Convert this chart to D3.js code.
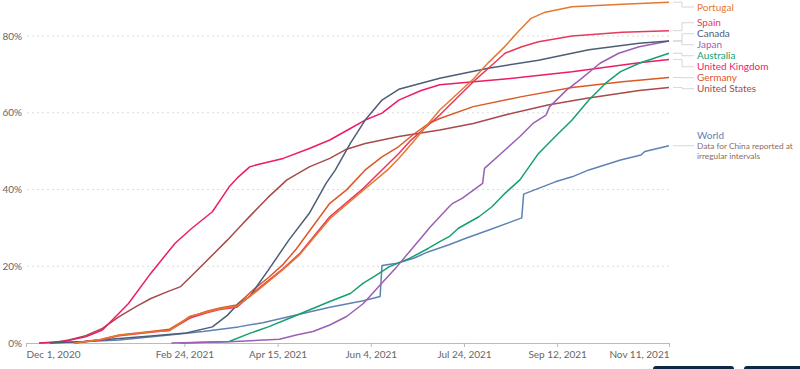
<!DOCTYPE html>
<html>
<head>
<meta charset="utf-8">
<script src="https://cdn.jsdelivr.net/npm/d3@7"></script>
<style>
body { margin: 0; background: #fff; font-family: Lato, "Open Sans", sans-serif; }
svg { display: block; }
</style>
</head>
<body>
<svg id="chart" width="800" height="369"></svg>
<script>
// share of people with at least one dose
const portugal = [["2020-12-27",0],["2021-01-10",0.9],["2021-01-20",2.0],["2021-02-06",2.9],["2021-02-16",3.2],["2021-02-27",7.0],["2021-03-08",8.1],["2021-03-15",8.9],["2021-03-24",9.6],["2021-04-03",13.2],["2021-04-18",19.2],["2021-04-27",23.1],["2021-05-13",32.4],["2021-05-31",39.8],["2021-06-13",45.1],["2021-06-19",48.1],["2021-06-26",52],["2021-07-11",60.7],["2021-07-29",68.8],["2021-08-06",73],["2021-08-15",77.3],["2021-08-22",81.1],["2021-08-29",84.6],["2021-09-05",86.1],["2021-09-20",87.6],["2021-10-17",88.3],["2021-11-11",88.8]];
const spain = [["2020-12-27",0],["2021-01-10",0.8],["2021-01-20",1.9],["2021-02-06",2.8],["2021-02-16",3.3],["2021-02-27",6.5],["2021-03-08",7.9],["2021-03-15",8.7],["2021-03-24",9.3],["2021-04-03",13.5],["2021-04-18",19.4],["2021-04-27",23.4],["2021-05-13",32.9],["2021-05-31",40.3],["2021-06-10",45.1],["2021-06-19",49.4],["2021-06-25",52.6],["2021-07-11",59.4],["2021-07-29",68.1],["2021-08-07",72],["2021-08-15",75.5],["2021-08-24",77.2],["2021-09-02",78.5],["2021-09-20",80],["2021-10-17",81],["2021-11-11",81.4]];
const canada = [["2020-12-14",0],["2021-01-01",0.4],["2021-01-15",1.0],["2021-02-06",1.8],["2021-02-25",2.6],["2021-03-11",4.2],["2021-03-19",7.2],["2021-03-25",10.3],["2021-03-31",12.1],["2021-04-10",19],["2021-04-21",26.8],["2021-05-02",33.8],["2021-05-11",41.6],["2021-05-16",45.1],["2021-05-24",52],["2021-06-01",58.1],["2021-06-10",63.3],["2021-06-19",66.1],["2021-07-11",69],["2021-08-06",71.6],["2021-09-02",73.7],["2021-09-29",76.4],["2021-10-26",78.1],["2021-11-11",78.7]];
const japan = [["2021-02-17",0],["2021-03-20",0.3],["2021-04-16",1.0],["2021-04-25",2.1],["2021-05-04",3.0],["2021-05-13",4.7],["2021-05-22",6.9],["2021-05-31",10.3],["2021-06-09",15.1],["2021-06-18",19.9],["2021-06-27",25.1],["2021-07-06",30.3],["2021-07-16",35.5],["2021-07-18",36.4],["2021-07-23",37.7],["2021-08-03",41.6],["2021-08-04",45.5],["2021-08-12",49],["2021-08-23",53.8],["2021-08-30",57.2],["2021-09-06",59.4],["2021-09-08",61.6],["2021-09-17",65.9],["2021-09-24",68.5],["2021-10-05",72.9],["2021-10-15",75.5],["2021-10-26",77.2],["2021-11-11",78.7]];
const australia = [["2021-02-22",0],["2021-03-20",0.4],["2021-03-31",2.5],["2021-04-10",4.2],["2021-04-21",6.4],["2021-05-02",8.6],["2021-05-13",10.8],["2021-05-24",12.9],["2021-05-31",15.6],["2021-06-07",17.7],["2021-06-14",19.9],["2021-06-25",22.1],["2021-07-05",24.7],["2021-07-11",26.4],["2021-07-16",27.7],["2021-07-21",29.9],["2021-08-01",32.9],["2021-08-08",35.5],["2021-08-15",39],["2021-08-23",42.5],["2021-09-02",49.4],["2021-09-11",53.8],["2021-09-20",58.1],["2021-09-29",63.3],["2021-10-08",67.7],["2021-10-16",70.7],["2021-10-26",72.9],["2021-11-11",75.5]];
const unitedKingdom = [["2020-12-08",0],["2020-12-21",0.4],["2021-01-02",1.6],["2021-01-11",3.4],["2021-01-25",10.3],["2021-02-06",18.2],["2021-02-19",26],["2021-02-28",29.9],["2021-03-11",34.2],["2021-03-20",40.7],["2021-03-25",43.3],["2021-03-31",45.9],["2021-04-05",46.6],["2021-04-18",48.1],["2021-05-02",50.7],["2021-05-13",52.9],["2021-05-24",55.9],["2021-06-01",58.1],["2021-06-10",59.9],["2021-06-19",63.3],["2021-07-01",65.8],["2021-07-11",67.3],["2021-08-15",68.8],["2021-09-20",70.7],["2021-10-26",73],["2021-11-11",73.9]];
const germany = [["2020-12-27",0],["2021-01-10",0.9],["2021-01-20",2.1],["2021-02-06",3.0],["2021-02-16",3.6],["2021-02-27",6.8],["2021-03-08",8.3],["2021-03-15",9.1],["2021-03-24",9.9],["2021-04-03",14.3],["2021-04-10",17.0],["2021-04-18",20.5],["2021-04-25",24.5],["2021-05-13",36.4],["2021-05-22",39.9],["2021-06-01",45.1],["2021-06-10",48.5],["2021-06-19",51.2],["2021-06-27",54.4],["2021-07-05",57.2],["2021-07-11",58.5],["2021-07-29",61.6],["2021-08-24",64.2],["2021-09-20",66.6],["2021-10-17",68.1],["2021-11-11",69.2]];
const unitedStates = [["2020-12-14",0],["2020-12-24",0.8],["2021-01-02",1.9],["2021-01-11",3.8],["2021-01-20",6.9],["2021-01-29",9.5],["2021-02-06",11.6],["2021-02-15",13.4],["2021-02-22",14.7],["2021-03-03",19],["2021-03-12",23.4],["2021-03-19",26.8],["2021-03-25",29.9],["2021-03-31",33],["2021-04-10",38],["2021-04-20",42.5],["2021-05-02",45.9],["2021-05-13",48.1],["2021-05-22",50.5],["2021-06-01",52],["2021-06-19",53.8],["2021-07-11",55.5],["2021-07-29",57.2],["2021-08-15",59.4],["2021-09-07",62],["2021-09-28",63.8],["2021-10-26",65.8],["2021-11-11",66.6]];
const world = [["2020-12-08",0],["2020-12-31",0.3],["2021-01-20",0.8],["2021-02-16",2.1],["2021-03-06",3.0],["2021-03-25",4.2],["2021-04-07",5.3],["2021-04-25",7.3],["2021-05-13",9.3],["2021-05-31",11],["2021-06-09",12.1],["2021-06-10",20.2],["2021-06-18",20.8],["2021-06-27",22.1],["2021-07-05",23.8],["2021-07-16",25.6],["2021-07-25",27.3],["2021-08-06",29.4],["2021-08-24",32.6],["2021-08-25",38.8],["2021-09-02",40.3],["2021-09-11",42],["2021-09-20",43.3],["2021-09-29",45.1],["2021-10-16",47.7],["2021-10-27",49],["2021-10-29",49.9],["2021-11-11",51.4]];

const yTicks = [0, 20, 40, 60, 80];
const xTicks = ["2020-12-01", "2021-02-24", "2021-04-15", "2021-06-04", "2021-07-24", "2021-09-12", "2021-11-11"];
const worldNote = ["Data for China reported at", "irregular intervals"];
// order of labels from top to bottom when two end at the same value
const labelOrder = ["Portugal", "Spain", "Canada", "Japan", "Australia", "United Kingdom", "Germany", "United States"];

const series = [
  { name: "World", color: "#5f82b4", values: world },
  { name: "United States", color: "#a64a4a", values: unitedStates },
  { name: "Germany", color: "#dc5826", values: germany },
  { name: "United Kingdom", color: "#ec1c68", values: unitedKingdom },
  { name: "Australia", color: "#16a06e", values: australia },
  { name: "Japan", color: "#9b5fb4", values: japan },
  { name: "Canada", color: "#4d5d78", values: canada },
  { name: "Spain", color: "#e8385b", values: spain },
  { name: "Portugal", color: "#e5782f", values: portugal }
];

const parse = d3.timeParse("%Y-%m-%d");
const svg = d3.select("#chart");

const x = d3.scaleTime()
  .domain([parse(xTicks[0]), parse(xTicks[xTicks.length - 1])])
  .range([26, 669]);
const y = d3.scaleLinear().domain([0, 80]).range([343, 36]);

// dotted gridlines
svg.append("g")
  .selectAll("line")
  .data(yTicks.filter(d => d > 0))
  .join("line")
  .attr("x1", 27).attr("x2", 669)
  .attr("y1", d => y(d)).attr("y2", d => y(d))
  .attr("stroke", "#dcdcdc")
  .attr("stroke-dasharray", "2,3");

svg.append("g")
  .selectAll("text")
  .data(yTicks)
  .join("text")
  .attr("x", 22)
  .attr("y", d => y(d))
  .attr("dy", "0.35em")
  .attr("text-anchor", "end")
  .attr("fill", "#666")
  .style("font-size", "10px")
  .text(d => d + "%");

// x axis
const xAxis = svg.append("g")
  .attr("transform", "translate(0,343)")
  .call(d3.axisBottom(x)
    .tickValues(xTicks.map(parse))
    .tickFormat(d3.timeFormat("%b %-d, %Y"))
    .tickSize(4)
    .tickSizeOuter(0)
    .tickPadding(4));
xAxis.select(".domain").attr("stroke", "#bbb");
xAxis.selectAll(".tick line").attr("stroke", "#bbb");
xAxis.selectAll(".tick text")
  .attr("fill", "#666")
  .style("font-size", "10px")
  .style("font-family", "Lato, sans-serif");
xAxis.selectAll(".tick text").filter((d, i) => i === 0).attr("text-anchor", "start");
xAxis.selectAll(".tick text").filter((d, i) => i === xTicks.length - 1).attr("text-anchor", "end");

// lines
const line = d3.line()
  .x(d => x(parse(d[0])))
  .y(d => y(d[1]));

svg.append("g")
  .selectAll("path")
  .data(series)
  .join("path")
  .attr("d", d => line(d.values))
  .attr("fill", "none")
  .attr("stroke", d => d.color)
  .attr("stroke-width", 1.5)
  .attr("stroke-linejoin", "round");

// labels on the right, pushed apart so they don't overlap
const lastVal = s => s.values[s.values.length - 1][1];
const items = series.filter(s => s.name !== "World")
  .map(s => ({ s, target: y(lastVal(s)) }))
  .sort((a, b) => (a.target - b.target) || (labelOrder.indexOf(a.s.name) - labelOrder.indexOf(b.s.name)));
items.forEach(d => d.ly = d.target);
const gap = 11;
for (let k = 0; k < 400; k++) {
  for (let i = 1; i < items.length; i++) {
    const ov = items[i - 1].ly + gap - items[i].ly;
    if (ov > 0) { items[i - 1].ly -= ov / 2; items[i].ly += ov / 2; }
  }
  if (items[0].ly < 7) items[0].ly = 7;
}

const lx0 = x.range()[1] + 4, elbow = 682, lx1 = 694;
const lab = svg.append("g");
items.forEach(d => {
  lab.append("path")
    .attr("d", `M${lx0},${d.target}H${elbow}V${d.ly}H${lx1}`)
    .attr("fill", "none")
    .attr("stroke", "#ccc")
    .attr("stroke-width", 0.8);
  lab.append("text")
    .attr("x", 697).attr("y", d.ly).attr("dy", "0.35em")
    .attr("fill", d.s.color)
    .style("font-size", "10px")
    .text(d.s.name);
});

const w = series.find(s => s.name === "World");
const wy = y(lastVal(w));
lab.append("path")
  .attr("d", `M${lx0},${wy}H${lx1}`)
  .attr("fill", "none")
  .attr("stroke", "#ccc")
  .attr("stroke-width", 0.8);
lab.append("text")
  .attr("x", 697).attr("y", wy - 10).attr("dy", "0.35em")
  .attr("fill", w.color)
  .style("font-size", "10px")
  .text(w.name);
lab.selectAll("text.note")
  .data(worldNote)
  .join("text")
  .attr("class", "note")
  .attr("x", 697).attr("y", (d, i) => wy + i * 10).attr("dy", "0.35em")
  .attr("fill", "#8a6c62")
  .style("font-size", "8.3px")
  .text(d => d);

// the dark buttons peeking in at the bottom edge
svg.append("rect").attr("x", 653).attr("y", 366).attr("width", 81).attr("height", 24).attr("rx", 3).attr("fill", "#0e2747");
svg.append("rect").attr("x", 744).attr("y", 366).attr("width", 70).attr("height", 24).attr("rx", 3).attr("fill", "#0e2747");
</script>
</body>
</html>
